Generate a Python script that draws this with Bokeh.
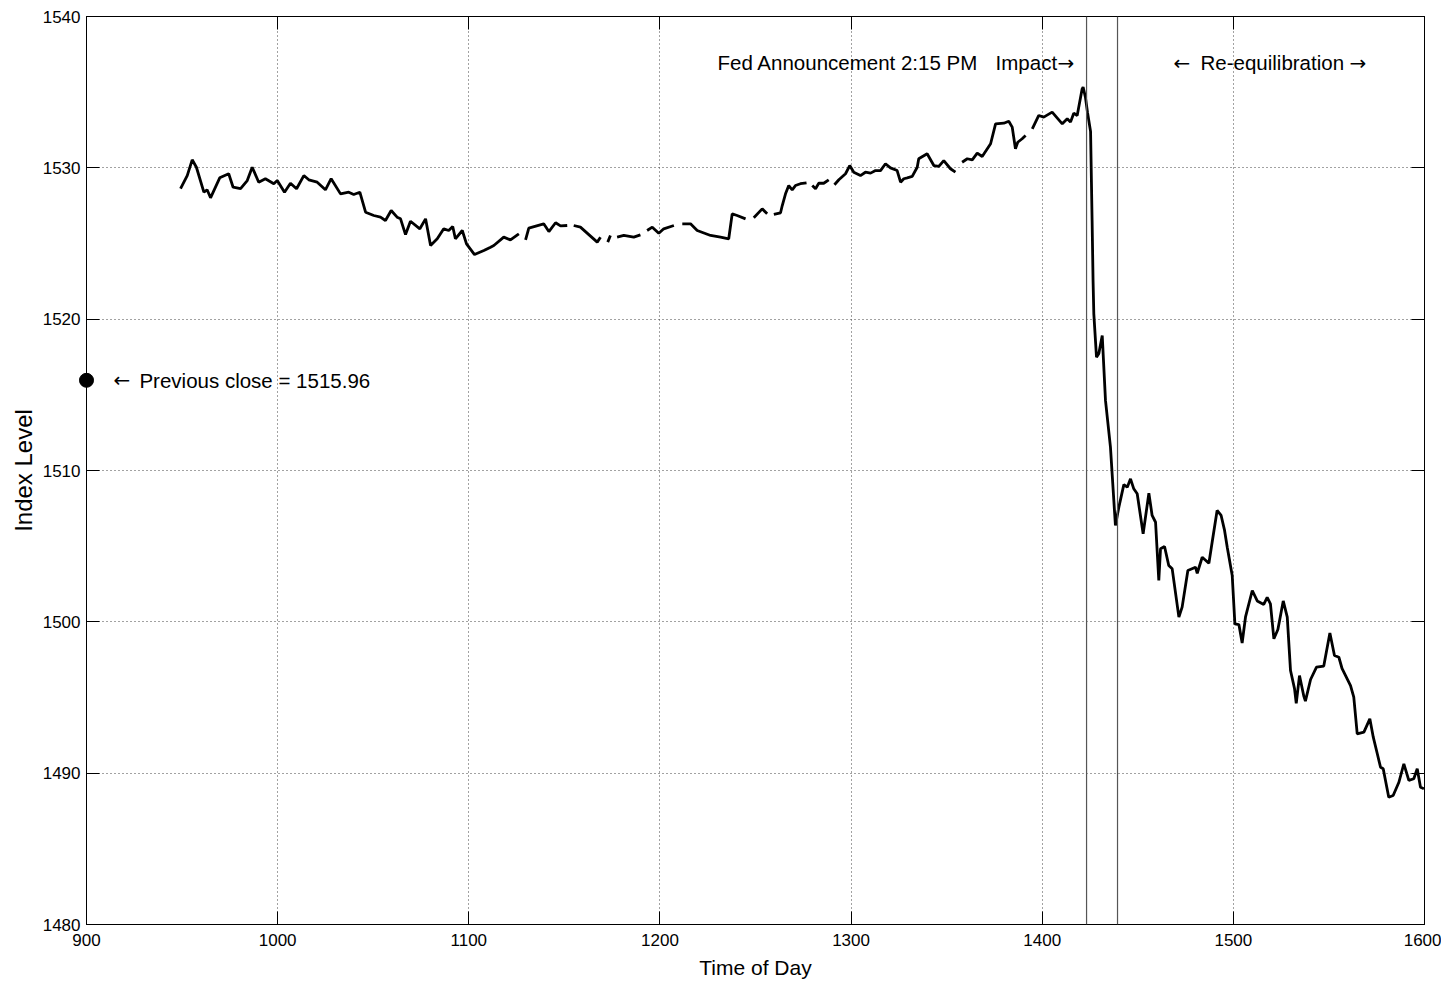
import math
from bokeh.plotting import figure
from bokeh.models import Range1d, FixedTicker, LinearAxis, Span, Label
from bokeh.embed import file_html
from bokeh.resources import INLINE

# ---- data: S&P 500 index level vs time of day (HHMM-like decimal scale) ----
seg_a = [(949.2, 1528.62), (952.7, 1529.49), (955.3, 1530.53), (957.5, 1530.04), (961.4, 1528.39),
         (963.1, 1528.55), (964.9, 1528.02), (969.7, 1529.34), (974.4, 1529.61), (976.7, 1528.72),
         (980.6, 1528.62), (984.1, 1529.16), (986.7, 1530.04), (990.1, 1529.05), (993.6, 1529.28),
         (998.0, 1528.95), (999.8, 1529.16), (1003.6, 1528.39), (1006.7, 1528.98), (1009.9, 1528.62),
         (1013.7, 1529.49), (1016.3, 1529.21), (1020.7, 1529.05), (1025.0, 1528.55), (1028.0, 1529.28),
         (1032.9, 1528.28), (1037.2, 1528.39), (1039.8, 1528.24), (1043.0, 1528.39), (1046.0, 1527.07),
         (1050.3, 1526.85), (1053.8, 1526.74), (1056.4, 1526.52), (1059.4, 1527.18), (1062.5, 1526.74),
         (1064.3, 1526.63), (1066.9, 1525.59), (1069.5, 1526.47), (1074.4, 1525.97), (1077.4, 1526.63),
         (1080.0, 1524.87), (1083.5, 1525.31), (1086.9, 1525.97), (1089.5, 1525.86), (1091.6, 1526.12),
         (1093.0, 1525.31), (1096.6, 1525.86), (1098.8, 1524.98), (1103.0, 1524.27), (1107.9, 1524.54),
         (1111.4, 1524.76), (1113.1, 1524.87), (1118.3, 1525.42), (1121.8, 1525.24), (1126.2, 1525.64)]
seg_b = [(1129.7, 1525.24), (1131.4, 1526.02), (1139.2, 1526.30), (1141.9, 1525.79), (1145.4, 1526.37),
         (1148.0, 1526.16), (1151.5, 1526.19)]
seg_c = [(1154.9, 1526.19), (1158.4, 1526.08), (1167.2, 1525.09), (1168.9, 1525.42)]
seg_d = [(1172.7, 1525.09), (1174.1, 1525.53)]
seg_e = [(1177.6, 1525.42), (1181.1, 1525.53), (1186.3, 1525.42), (1189.8, 1525.57)]
seg_f = [(1193.3, 1525.86), (1196.0, 1526.08), (1199.4, 1525.68), (1202.0, 1525.97), (1207.3, 1526.19)]
seg_g = [(1211.7, 1526.30), (1216.0, 1526.30), (1219.5, 1525.86), (1226.5, 1525.53), (1231.7, 1525.42),
         (1236.0, 1525.31), (1237.8, 1526.96), (1240.4, 1526.85), (1244.8, 1526.63)]
seg_h = [(1249.1, 1526.70), (1253.5, 1527.29), (1256.1, 1526.96)]
seg_i = [(1259.6, 1526.92), (1263.1, 1527.03), (1264.0, 1527.51), (1265.7, 1528.28), (1267.4, 1528.83),
         (1269.2, 1528.55), (1270.9, 1528.83), (1273.5, 1528.95), (1276.7, 1529.01)]
seg_j = [(1279.7, 1528.83), (1281.4, 1528.62), (1283.1, 1528.98), (1285.7, 1528.98), (1288.3, 1529.21)]
seg_k = [(1291.3, 1528.88), (1293.6, 1529.21), (1297.1, 1529.61), (1299.3, 1530.15), (1301.4, 1529.71),
         (1304.9, 1529.49), (1307.5, 1529.71), (1310.2, 1529.65), (1312.8, 1529.82), (1315.4, 1529.82),
         (1318.0, 1530.27), (1320.6, 1530.00), (1324.1, 1529.82), (1325.9, 1529.05), (1327.6, 1529.28),
         (1329.4, 1529.34), (1332.0, 1529.43), (1334.6, 1530.04), (1335.4, 1530.60), (1339.8, 1530.93),
         (1343.3, 1530.15), (1345.9, 1530.09), (1348.5, 1530.48), (1352.0, 1529.94), (1354.6, 1529.71)]
seg_l = [(1358.1, 1530.37), (1360.8, 1530.60), (1363.4, 1530.53), (1366.0, 1530.97), (1368.6, 1530.75),
         (1373.0, 1531.59), (1375.6, 1532.91), (1379.9, 1532.95), (1382.5, 1533.08), (1384.3, 1532.69),
         (1386.0, 1531.26), (1387.2, 1531.69), (1389.5, 1531.92), (1391.3, 1532.14)]
seg_m = [(1394.8, 1532.58), (1398.2, 1533.46), (1400.8, 1533.35), (1405.2, 1533.68), (1410.5, 1532.91),
         (1413.1, 1533.24), (1414.8, 1533.02), (1416.5, 1533.61), (1418.3, 1533.46), (1420.9, 1535.22),
         (1421.4, 1535.33), (1422.6, 1534.67), (1423.7, 1533.66), (1425.3, 1532.40), (1426.1, 1526.52),
         (1426.6, 1522.56), (1427.0, 1520.35), (1428.4, 1517.49), (1429.6, 1517.71), (1431.4, 1518.92),
         (1433.1, 1514.63), (1435.7, 1511.54), (1438.3, 1506.37), (1440.1, 1507.58), (1442.7, 1509.07),
         (1444.5, 1508.90), (1446.2, 1509.45), (1447.9, 1508.79), (1449.7, 1508.46), (1452.8, 1505.82),
         (1455.8, 1508.50), (1457.5, 1507.03), (1459.3, 1506.58), (1461.0, 1502.73), (1461.9, 1504.83),
         (1464.0, 1504.98), (1466.2, 1503.72), (1468.0, 1503.50), (1471.5, 1500.31), (1473.2, 1500.97),
         (1476.2, 1503.39), (1480.2, 1503.61), (1481.1, 1503.21), (1483.7, 1504.27), (1487.2, 1503.87),
         (1488.9, 1505.26), (1491.5, 1507.36), (1493.6, 1507.03), (1495.4, 1506.04), (1496.8, 1504.93),
         (1499.4, 1503.06), (1500.8, 1499.87), (1502.9, 1499.82), (1504.6, 1498.60), (1506.4, 1500.35),
         (1509.9, 1502.07), (1512.5, 1501.38), (1515.9, 1501.15), (1517.7, 1501.61), (1519.4, 1501.19),
         (1521.2, 1498.88), (1523.3, 1499.49), (1526.1, 1501.38), (1528.2, 1500.31), (1529.9, 1496.78),
         (1532.0, 1495.59), (1532.9, 1494.62), (1534.6, 1496.45), (1536.9, 1495.07), (1537.7, 1494.76),
         (1540.4, 1496.19), (1543.5, 1497.00), (1547.3, 1497.08), (1550.5, 1499.26), (1552.9, 1497.78),
         (1555.2, 1497.66), (1556.9, 1496.90), (1561.3, 1495.79), (1563.0, 1495.02), (1564.8, 1492.60),
         (1568.3, 1492.71), (1571.4, 1493.59), (1573.2, 1492.38), (1575.3, 1491.28), (1577.0, 1490.39),
         (1578.4, 1490.29), (1581.3, 1488.41), (1583.6, 1488.52), (1586.6, 1489.40), (1589.2, 1490.62),
         (1591.8, 1489.52), (1594.4, 1489.63), (1596.2, 1490.29), (1597.9, 1489.07), (1599.7, 1488.97)]

segments = [seg_a, seg_b, seg_c, seg_d, seg_e, seg_f, seg_g, seg_h, seg_i, seg_j, seg_k, seg_l, seg_m]

prev_close_time = [900.0]
prev_close_level = [1515.96]
event_lines = [1423.2, 1439.4]

x_ticks = [900, 1000, 1100, 1200, 1300, 1400, 1500, 1600]
y_ticks = [1480, 1490, 1500, 1510, 1520, 1530, 1540]

# join segments with NaN breaks (missing quotes)
t, v = [], []
for seg in segments:
    if t:
        t.append(math.nan)
        v.append(math.nan)
    for a, b in seg:
        t.append(a)
        v.append(b)

FONT = "Liberation Sans"
ARROW_FONT = "DejaVu Sans"

p = figure(width=1441, height=982, output_backend="svg", toolbar_location=None,
           x_range=Range1d(900, 1600), y_range=Range1d(1480, 1540),
           min_border_left=86, min_border_right=17, min_border_top=16, min_border_bottom=58)
p.background_fill_color = "white"
p.border_fill_color = "white"
p.outline_line_color = "black"
p.outline_line_width = 1

# grid
for g, ticks in ((p.xgrid, x_ticks), (p.ygrid, y_ticks)):
    g.ticker = FixedTicker(ticks=ticks)
    g.grid_line_color = "#444444"
    g.grid_line_dash = "1 3"
    g.grid_line_width = 1

def style_axis(ax, ticks, labels=True, standoff=6):
    ax.ticker = FixedTicker(ticks=ticks)
    ax.axis_line_color = "black"
    ax.major_tick_line_color = "black"
    ax.major_tick_in = 13
    ax.major_tick_out = 0
    ax.minor_tick_line_color = None
    ax.major_label_text_font = FONT
    ax.major_label_text_color = "black"
    if labels:
        ax.major_label_text_font_size = "17px"
        ax.major_label_standoff = standoff
    else:
        ax.major_label_text_font_size = "1px"
        ax.major_label_text_color = None
        ax.major_label_standoff = 0

style_axis(p.xaxis[0], x_ticks, standoff=9)
style_axis(p.yaxis[0], y_ticks, standoff=6)
p.xaxis[0].axis_label = "Time of Day"
p.yaxis[0].axis_label = "Index Level"
for ax, size, so in ((p.xaxis[0], "21px", 7), (p.yaxis[0], "24px", 3)):
    ax.axis_label_text_font = FONT
    ax.axis_label_text_font_size = size
    ax.axis_label_text_font_style = "normal"
    ax.axis_label_text_color = "black"
    ax.axis_label_standoff = so

top_ax = LinearAxis()
style_axis(top_ax, x_ticks, labels=False)
p.add_layout(top_ax, "above")
right_ax = LinearAxis()
style_axis(right_ax, y_ticks, labels=False)
p.add_layout(right_ax, "right")

# event lines
for loc in event_lines:
    p.add_layout(Span(location=loc, dimension="height", line_color="#555555", line_width=1.2))

# index line
p.line(t, v, line_color="black", line_width=2.8)

# previous close marker (overlay level so it can straddle the axis unclipped)
p.scatter(prev_close_time, prev_close_level, size=14, marker="circle",
          fill_color="black", line_color="black", level="overlay")

def add_text(x, y, txt, font=FONT, size="20.5px"):
    p.add_layout(Label(x=x, y=y, text=txt, text_font=font, text_font_size=size,
                       text_color="black", text_baseline="middle", text_align="left"))

ann_y = 1536.96
add_text(914.1, prev_close_level[0], "\u2190", font=ARROW_FONT, size="20px")
add_text(927.7, prev_close_level[0], "Previous close = 1515.96")
add_text(1230.1, ann_y, "Fed Announcement 2:15 PM")
add_text(1375.6, ann_y, "Impact")
add_text(1408.0, ann_y, "\u2192", font=ARROW_FONT, size="20px")
add_text(1468.7, ann_y, "\u2190", font=ARROW_FONT, size="20px")
add_text(1482.8, ann_y, "Re-equilibration")
add_text(1560.8, ann_y, "\u2192", font=ARROW_FONT, size="20px")

open("out.html", "w").write(file_html(p, INLINE))
